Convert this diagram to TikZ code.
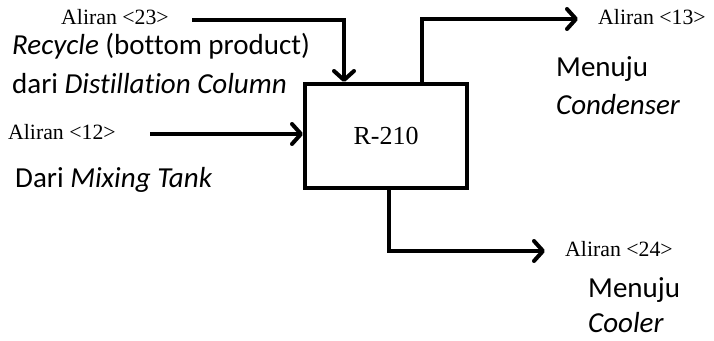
\documentclass[tikz,border=0pt]{standalone}
\usepackage{fontspec}
\setmainfont{Liberation Serif}
\newfontfamily\calfont[Ligatures=NoCommon]{Carlito}
\usetikzlibrary{arrows.meta}

\tikzset{
  unit/.style={draw, line width=4pt, minimum width=162pt, minimum height=104pt,
    inner sep=0pt, font=\fontsize{26}{30}\selectfont},
  flow/.style={line width=4pt, -{Straight Barb[round,length=9pt,width=20pt]}},
  stream/.style={anchor=base west, inner sep=0pt, font=\fontsize{21.8}{26}\selectfont},
  note/.style={anchor=base west, inner sep=0pt, font=\calfont\fontsize{29}{34}\selectfont},
}

\begin{document}
\begin{tikzpicture}[x=1pt, y=-1pt]
  \useasboundingbox (0,0) rectangle (714,340);

  % reactor
  \node[unit] (r210) at (386,136) {R-210};

  % free ends of the streams
  \coordinate (s23) at (192,20);
  \coordinate (s12) at (150,134);
  \coordinate (e13) at (578,19);
  \coordinate (e24) at (545,251);

  % streams
  \draw[flow] (s23) -| ([xshift=41pt]r210.north west);
  \draw[flow] (s12) -- (s12 -| r210.west);
  \draw[flow] ([xshift=119pt]r210.north west) |- (e13);
  \draw[flow] ([xshift=86pt]r210.south west) |- (e24);

  % stream labels
  \node[stream] (l23) at (61,24) {Aliran <23>};
  \node[stream] (l12) at (8,139) {Aliran <12>};
  \node[stream] (l13) at (598,24) {Aliran <13>};
  \node[stream] (l24) at (565,256) {Aliran <24>};

  % descriptions
  \node[note] (d23a) at (12,54) {\textit{Recycle} (bottom product)};
  \node[note] (d23b) at (12,93) {dari \textit{Distillation Column}};
  \node[note] (d12) at (15,187) {Dari \textit{Mixing Tank}};
  \node[note] (d13a) at (556,76) {Menuju};
  \node[note] (d13b) at (556,114) {\textit{Condenser}};
  \node[note] (d24a) at (588,297) {Menuju};
  \node[note] (d24b) at (588,332) {\textit{Cooler}};
\end{tikzpicture}
\end{document}
